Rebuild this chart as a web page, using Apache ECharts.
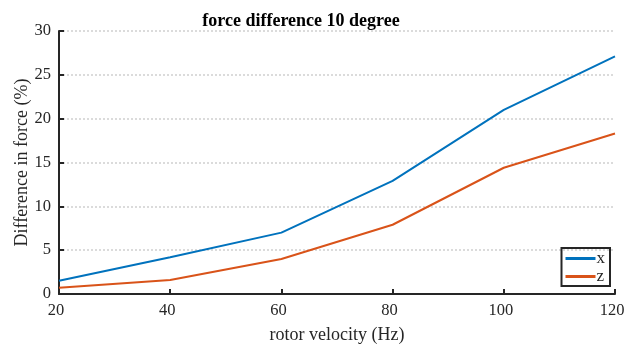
<!DOCTYPE html>
<html>
<head>
<meta charset="utf-8">
<script src="https://cdn.jsdelivr.net/npm/echarts@6/dist/echarts.min.js"></script>
<style>
  html, body { margin: 0; padding: 0; background: #fff; }
  #chart { width: 624px; height: 347px; }
</style>
</head>
<body>
<div id="chart"></div>
<script>
// rotor velocity (Hz)
const velocity = [20, 40, 60, 80, 100, 120]
// difference in force (%)
const xDiff = [1.5, 4.2, 7.0, 12.9, 21.0, 27.1]
const zDiff = [0.7, 1.6, 4.0, 7.9, 14.4, 18.3]

const font = '"Liberation Serif", "DejaVu Serif", serif'
const ink = '#262626'

const chart = echarts.init(document.getElementById('chart'))

chart.setOption({
  animation: false,
  title: {
    text: 'force difference 10 degree',
    left: 296,
    textAlign: 'center',
    top: 7,
    textStyle: { fontFamily: font, fontSize: 18, fontWeight: 'bold', color: '#000' }
  },
  legend: {
    orient: 'vertical',
    right: 14,
    top: 248,
    padding: [2, 5, 1, 4],
    itemGap: 1,
    itemWidth: 30,
    itemHeight: 3,
    icon: 'rect',
    borderColor: ink,
    borderWidth: 2,
    textStyle: { fontFamily: font, fontSize: 17, color: ink, padding: [0, 0, 0, -4] },
    data: ['x', 'z']
  },
  grid: { left: 59, right: 9, top: 31, bottom: 53, containLabel: false, outerBoundsMode: 'none' },
  xAxis: {
    type: 'value',
    min: 20,
    max: 120,
    interval: 20,
    name: 'rotor velocity (Hz)',
    nameLocation: 'middle',
    nameGap: 32,
    nameTextStyle: { fontFamily: font, fontSize: 18, color: ink },
    axisLine: { lineStyle: { color: ink, width: 2 } },
    axisTick: { inside: true, length: 5, lineStyle: { color: ink, width: 2 } },
    axisLabel: { fontFamily: font, fontSize: 16.5, color: ink, margin: 8, padding: [0, 6, 0, 0] },
    splitLine: { show: false }
  },
  yAxis: {
    type: 'value',
    min: 0,
    max: 30,
    interval: 5,
    name: 'Difference in force (%)',
    nameLocation: 'middle',
    nameGap: 28,
    nameMoveOverlap: false,
    nameTextStyle: { fontFamily: font, fontSize: 18, color: ink },
    axisLine: { show: true, lineStyle: { color: ink, width: 2 } },
    axisTick: { show: true, inside: true, length: 5, lineStyle: { color: ink, width: 2 } },
    axisLabel: { fontFamily: font, fontSize: 16.5, color: ink, margin: 8 },
    splitLine: { show: true, lineStyle: { color: '#cfcfcf', type: [2, 2], width: 1.5 } }
  },
  series: [
    {
      name: 'x',
      type: 'line',
      data: velocity.map((v, i) => [v, xDiff[i]]),
      symbol: 'none',
      lineStyle: { color: '#0072BD', width: 2 },
      itemStyle: { color: '#0072BD' }
    },
    {
      name: 'z',
      type: 'line',
      data: velocity.map((v, i) => [v, zDiff[i]]),
      symbol: 'none',
      lineStyle: { color: '#D95319', width: 2 },
      itemStyle: { color: '#D95319' }
    }
  ]
})
</script>
</body>
</html>
